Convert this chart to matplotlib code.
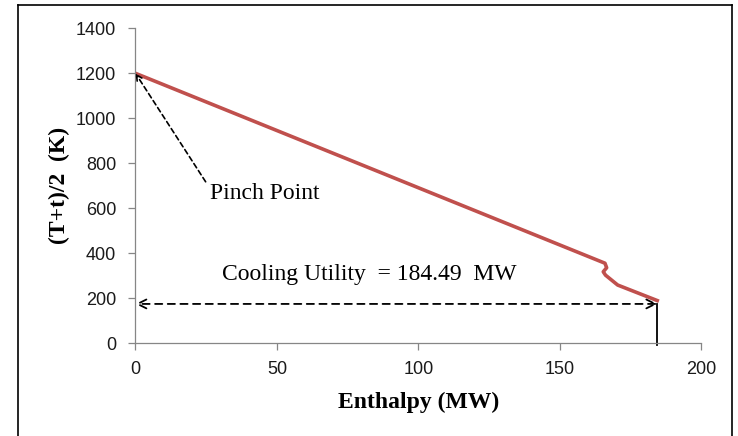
import matplotlib
matplotlib.use("Agg")
import matplotlib.pyplot as plt
from matplotlib.lines import Line2D

# composite curve
enthalpy = [0, 166.0, 166.6, 165.4, 166.2, 170.5, 184.49]
temperature = [1200, 356, 336, 318, 303, 259, 190]

x_ticks = [0, 50, 100, 150, 200]
y_ticks = [0, 200, 400, 600, 800, 1000, 1200, 1400]

pinch = (0, 1200)
pinch_label_pos = (24.8, 718)
cooling_duty = 184.49
cooling_level = 175

serif = "Liberation Serif"
sans = "Liberation Sans"

fig = plt.figure(figsize=(7.38, 4.36), dpi=100)
ax = fig.add_axes([0.1836, 0.2126, 0.7664, 0.7224])

ax.plot(enthalpy, temperature, color="#C0504D", lw=2.6, solid_joinstyle="round")

ax.set_xlim(0, 200)
ax.set_ylim(0, 1400)
ax.set_xticks(x_ticks)
ax.set_yticks(y_ticks)
for s in ["top", "right"]:
    ax.spines[s].set_visible(False)
for s in ["left", "bottom"]:
    ax.spines[s].set_color("#868686")
    ax.spines[s].set_linewidth(0.9)
ax.tick_params(colors="#868686", length=5, width=0.9)
ax.tick_params(axis="x", pad=8, labelcolor="#1a1a1a")
ax.tick_params(axis="y", pad=9, labelcolor="#1a1a1a")
for lab in ax.get_xticklabels() + ax.get_yticklabels():
    lab.set_fontfamily(sans)
    lab.set_fontsize(13)

ax.set_xlabel("Enthalpy (MW)", fontfamily=serif, fontweight="bold", fontsize=17, labelpad=10)
ax.set_ylabel("(T+t)/2  (K)", fontfamily=serif, fontweight="bold", fontsize=17, labelpad=4)

# pinch point annotation
ax.annotate("", xy=pinch, xytext=pinch_label_pos,
            arrowprops=dict(arrowstyle="->", ls=(0, (3, 2)), lw=1.2, color="black",
                            shrinkA=0, shrinkB=0))
ax.text(26.3, 665, "Pinch Point", fontfamily=serif, fontsize=17, va="center", ha="left")

# cooling utility arrow
ax.annotate("", xy=(0, cooling_level), xytext=(cooling_duty, cooling_level),
            arrowprops=dict(arrowstyle="<->", ls=(0, (4, 3)), lw=1.3, color="black",
                            shrinkA=0, shrinkB=0, mutation_scale=16))
ax.plot([cooling_duty, cooling_duty], [cooling_level, -8], color="black", lw=1.3, clip_on=False)
ax.text(30.5, 308, "Cooling Utility  = 184.49  MW", fontfamily=serif, fontsize=17,
        va="center", ha="left")

# outer frame
for xs, ys in [([18 / 738, 18 / 738], [0, 1 - 5 / 436]),
               ([18 / 738, 732 / 738], [1 - 5 / 436, 1 - 5 / 436]),
               ([732 / 738, 732 / 738], [1 - 5 / 436, 0])]:
    fig.add_artist(Line2D(xs, ys, color="black", lw=1.2, transform=fig.transFigure))

fig.savefig("out.png", dpi=100)
